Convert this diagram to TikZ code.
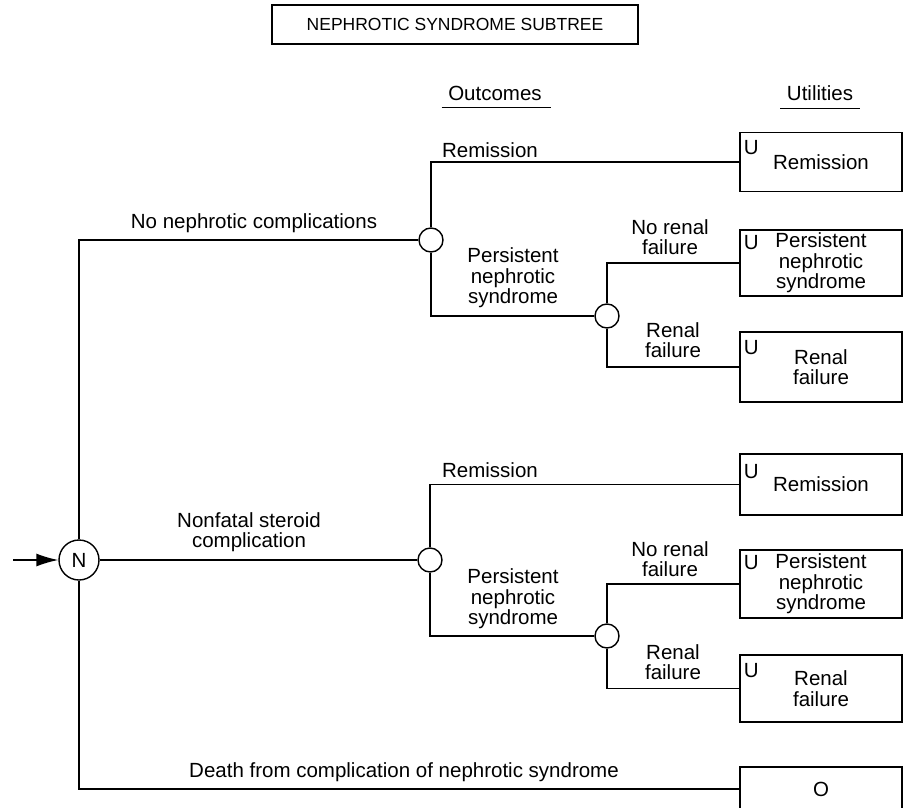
\documentclass[tikz,border=0pt]{standalone}
\usepackage{fontspec}
\setmainfont{Liberation Sans}
\usetikzlibrary{arrows.meta}

\begin{document}
\begin{tikzpicture}[x=1pt,y=-1pt,line width=1.4pt,
	every node/.style={font=\fontsize{20.5}{20.5}\selectfont,inner sep=0pt},
	chance/.style={draw,circle,minimum size=24pt},
	utilbox/.style={draw,minimum width=162pt,align=center},
	lbl/.style={align=center}]
			\useasboundingbox (0,0) rectangle (907,808);
			\clip (0,0) rectangle (907,808);
			% heading
			\node[draw,minimum width=366pt,minimum height=39pt,font=\fontsize{17.5}{17.5}\selectfont] (title) at (455,24.5) {NEPHROTIC SYNDROME SUBTREE};
			\node (outc) at (495,93) {Outcomes};
			\node (util) at (820,93) {Utilities};
			\draw[line width=1pt] ([shift={(-6,7)}]outc.south west) -- ([shift={(9,7)}]outc.south east);
			\draw[line width=1pt] ([shift={(-6,7)}]util.south west) -- ([shift={(6,7)}]util.south east);
			% decision node
			\node[draw,circle,minimum size=40pt] (n) at (79,560) {N};
			\coordinate (in) at (13,560);
			\draw[-{Latex[length=22pt,width=13pt]}] (in) -- (n);
			% chance nodes
			\node[chance] (c1) at (431,240) {};
			\node[chance] (c2) at (607,316) {};
			\node[chance] (c3) at (430,560) {};
			\node[chance] (c4) at (607,636) {};
			% utilities, upper
			\node[utilbox,minimum height=59pt] (b1) at (821,162) {Remission};
			\node[utilbox,minimum height=66pt] (b2) at (821,263) {Persistent\\nephrotic\\syndrome};
			\node[utilbox,minimum height=70pt] (b3) at (821,367) {Renal\\failure};
			% utilities, lower
			\node[utilbox,minimum height=61pt] (b4) at (821,484.5) {Remission};
			\node[utilbox,minimum height=68pt] (b5) at (821,584) {Persistent\\nephrotic\\syndrome};
			\node[utilbox,minimum height=67pt] (b6) at (821,688.5) {Renal\\failure};
			\node[utilbox,minimum height=44pt] (b7) at (821,789) {O};
			\foreach \b/\dy in {b1/16,b2/13,b3/16,b4/18,b5/13,b6/16}
				\node at ([shift={(12,\dy)}]\b.north west) {U};
			% branches
			\draw (n) |- (c1);
			\draw (n) -- (c3);
			\draw (n) |- (b7);
			\draw (c1) |- (b1) (c1) |- (c2);
			\draw (c2) |- (b2) (c2) |- (b3);
			\draw (c3) |- (b4) (c3) |- (c4);
			\draw (c4) |- (b5) (c4) |- (b6);
			% branch labels
			\node (l1) at (254,223) {No nephrotic complications};
			\node[lbl] (l2) at (249,532) {Nonfatal steroid\\complication};
			\node (l3) at (404,772) {Death from complication of nephrotic syndrome};
			\node (r1) at (490,150) {Remission};
			\node[lbl] (p1) at (513,278) {Persistent\\nephrotic\\syndrome};
			\node[lbl] (k1) at (670,237) {No renal\\failure};
			\node[lbl] (f1) at (673,340) {Renal\\failure};
			\node (r2) at (490,470) {Remission};
			\node[lbl] (p2) at (513,599) {Persistent\\nephrotic\\syndrome};
			\node[lbl] (k2) at (670,559) {No renal\\failure};
			\node[lbl] (f2) at (673,662) {Renal\\failure};
		\end{tikzpicture}
\end{document}
